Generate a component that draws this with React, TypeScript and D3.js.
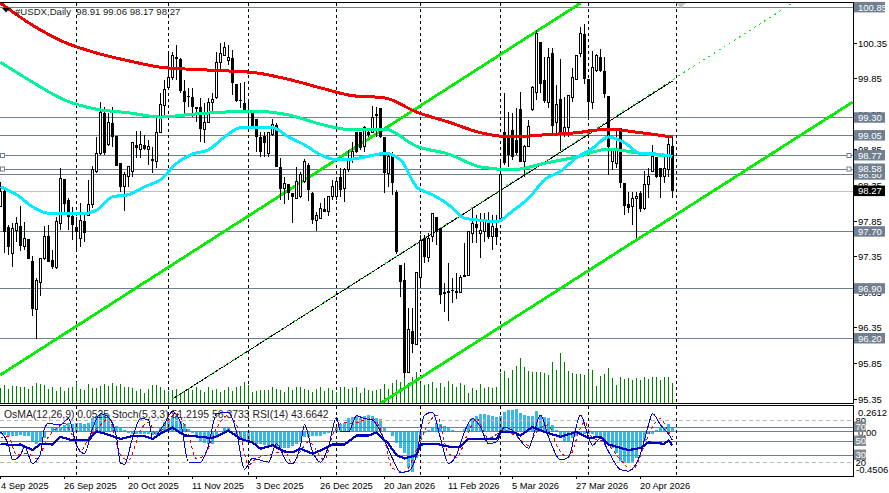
import React from 'react'
import * as d3 from 'd3'

// #USDX daily
const opens = [98.05,98.27,97.77,97.40,97.72,97.78,97.49,97.60,97.29,96.61,96.98,97.32,97.64,97.30,97.19,97.82,98.44,98.15,97.92,97.77,97.60,97.85,97.93,98.08,98.54,98.80,99.37,98.93,99.23,99.04,98.66,98.33,98.47,98.55,98.92,98.85,98.92,98.85,98.72,98.69,99.10,99.47,99.73,99.86,100.15,100.12,99.68,99.61,99.59,99.44,99.45,99.14,99.23,99.51,99.58,100.08,100.18,100.10,100.14,99.77,99.55,99.51,99.38,99.37,99.28,99.03,99.04,98.80,99.06,99.20,98.61,98.30,98.37,98.24,98.17,98.19,98.40,98.64,98.24,97.86,97.89,98.02,97.98,98.19,98.20,98.47,98.30,98.57,98.71,99.10,99.10,98.89,99.10,99.09,99.35,99.44,99.03,98.52,98.79,98.26,97.23,97.02,95.72,96.31,96.11,97.06,97.61,97.34,97.63,97.91,97.75,96.85,96.87,96.88,96.87,96.85,97.09,97.09,97.67,97.81,97.67,97.70,97.82,97.63,97.75,97.88,99.10,99.03,99.13,98.99,99.42,98.68,98.90,99.41,99.65,100.36,99.83,99.52,100.21,99.24,99.56,99.10,99.16,99.59,99.84,100.20,100.48,99.84,99.51,99.96,100.15,99.96,99.61,98.69,98.66,99.16,98.38,98.09,98.05,98.16,98.24,98.02,98.36,98.55,98.75,98.59,98.47,98.57,98.91]
const highs = [98.40,98.29,97.79,97.82,97.91,98.06,97.84,97.60,97.36,97.05,97.33,97.78,97.79,97.44,97.91,98.59,98.44,98.17,98.05,97.91,98.10,97.98,98.43,98.62,99.03,99.52,99.45,99.37,99.45,99.04,98.66,98.54,98.62,98.96,99.11,99.11,99.06,98.99,98.89,99.30,99.65,99.83,100.22,100.22,100.32,100.14,99.83,99.72,99.72,99.45,99.58,99.51,99.58,99.65,100.22,100.35,100.36,100.32,100.25,99.77,99.79,99.80,99.52,99.37,99.28,99.10,99.10,99.10,99.28,99.23,98.74,98.47,98.37,98.24,98.61,98.54,98.72,98.66,98.26,97.98,98.10,98.17,98.19,98.43,98.47,98.59,98.59,98.85,98.96,99.10,99.10,99.18,99.13,99.47,99.45,99.44,99.03,98.82,98.82,98.29,97.23,97.26,96.63,96.63,97.12,97.65,97.65,97.68,97.96,97.91,97.75,96.98,97.26,97.05,97.12,97.09,97.54,97.70,98.03,97.93,97.96,97.96,97.98,97.93,97.93,98.71,99.65,99.38,99.37,99.44,99.66,98.92,99.27,99.75,100.53,100.36,100.15,100.28,100.28,99.76,100.12,99.59,99.62,100.00,100.18,100.57,100.62,99.84,100.24,100.20,100.27,100.15,99.61,98.85,99.13,99.16,98.38,98.26,98.26,98.26,98.27,98.55,98.59,98.92,98.75,98.59,98.75,99.03,99.06]
const lows = [98.05,97.40,97.37,97.20,97.56,97.43,97.44,97.32,96.52,96.19,96.80,97.30,97.27,97.18,97.18,97.72,97.96,97.72,97.58,97.41,97.49,97.56,97.93,98.03,98.52,98.78,98.78,98.90,98.89,98.62,98.26,97.99,98.33,98.47,98.74,98.74,98.85,98.64,98.52,98.59,99.09,99.31,99.72,99.83,99.83,99.65,99.37,99.45,99.31,99.24,98.96,98.95,99.23,99.37,99.56,99.94,100.17,100.04,99.62,99.52,99.44,99.37,99.20,99.16,98.82,98.75,98.75,98.75,99.04,98.61,98.15,98.09,98.15,97.82,98.16,98.17,98.38,98.13,97.81,97.71,97.88,97.98,97.92,98.15,98.15,98.19,98.12,98.54,98.66,98.80,98.85,98.82,99.03,99.09,99.03,99.02,98.24,98.33,98.22,97.39,96.78,95.65,95.72,96.00,96.11,96.92,97.26,97.27,97.56,97.51,96.68,96.57,96.45,96.70,96.75,96.84,97.06,97.08,97.54,97.54,97.33,97.56,97.60,97.44,97.51,97.88,98.64,98.61,98.71,98.78,98.68,98.47,98.89,99.39,99.55,99.65,99.51,99.44,99.09,99.09,98.83,99.03,99.03,99.52,99.83,100.15,99.77,99.30,99.42,99.94,99.94,99.58,98.50,98.57,98.59,98.31,97.93,97.96,97.79,97.61,97.98,98.00,98.17,98.54,98.45,98.17,98.38,98.47,98.17]
const closes = [98.26,97.70,97.49,97.74,97.82,97.50,97.60,97.32,96.61,97.01,97.33,97.63,97.27,97.20,97.84,98.44,98.09,97.91,97.79,97.70,97.86,97.68,98.08,98.57,98.80,99.37,98.80,99.24,99.03,98.62,98.33,98.51,98.61,98.95,98.87,98.92,98.86,98.90,98.69,99.09,99.48,99.69,99.86,100.18,100.12,99.68,99.52,99.59,99.45,99.45,99.14,99.24,99.51,99.56,100.08,100.20,100.29,100.15,99.79,99.54,99.54,99.41,99.37,99.17,99.03,98.82,98.95,99.09,99.20,98.61,98.30,98.37,98.24,98.19,98.41,98.50,98.69,98.29,97.86,97.93,98.02,97.98,98.19,98.34,98.40,98.29,98.57,98.71,98.82,98.82,98.87,99.17,99.06,99.31,99.32,99.03,98.52,98.75,98.38,97.41,96.99,95.72,96.32,96.12,97.12,97.57,97.34,97.61,97.95,97.70,96.81,96.82,96.84,96.87,96.84,97.06,97.06,97.70,97.81,97.75,97.71,97.84,97.63,97.77,97.63,98.50,98.66,98.78,98.75,98.80,98.68,98.90,99.18,99.72,100.49,99.77,99.54,100.15,99.18,99.48,99.09,99.17,99.61,99.86,100.17,100.49,99.84,99.52,100.00,100.17,99.96,99.63,98.89,98.85,98.85,98.38,98.06,98.03,98.17,98.20,98.02,98.36,98.47,98.75,98.47,98.47,98.59,98.92,98.27]
const volumes = [15,18,14,17,17,16,16,14,17,20,19,18,14,16,12,16,12,15,16,21,14,13,19,15,15,17,19,17,20,17,19,16,16,15,12,14,10,14,18,18,16,13,12,13,14,10,12,15,13,16,13,11,16,13,14,11,13,16,12,16,17,21,18,11,12,13,13,13,16,14,13,11,16,13,16,16,14,13,11,14,16,12,15,13,11,16,16,14,15,16,10,15,13,12,13,14,19,14,20,23,21,25,20,26,31,20,18,19,21,15,20,16,22,19,16,20,18,10,15,13,19,15,16,15,16,30,32,25,33,37,45,36,32,31,31,31,30,28,41,33,50,41,32,30,29,29,28,33,33,17,27,29,35,25,18,26,24,25,23,25,23,26,24,26,26,23,26,26,20]

// moving averages, one reading every few bars
const maSlowPrices = [100.91,100.60,100.36,100.21,100.10,100.01,99.98,99.96,99.93,99.84,99.72,99.61,99.58,99.38,99.24,99.09,99.03,99.06,99.09,99.14,99.09,99.03]
const maMidPrices = [100.08,99.80,99.55,99.42,99.37,99.31,99.35,99.38,99.39,99.34,99.21,99.13,99.14,98.90,98.79,98.61,98.57,98.66,98.75,98.86,98.80,98.76]
const maFastPrices = [98.33,98.22,98.05,97.96,97.96,97.95,98.00,98.19,98.22,98.33,98.43,98.66,98.79,98.85,99.03,99.16,99.16,99.16,99.03,98.92,98.78,98.71,98.72,98.76,98.80,98.71,98.33,98.22,98.08,97.89,97.86,97.84,97.99,98.17,98.43,98.55,98.74,98.87,99.03,98.95,98.80,98.79,98.76]

// channel lines: bar index, price
const upperChannel: [number, number][] = [[0, 95.69], [145, 100.91]]
const middleChannel: [number, number][] = [[43, 95.35], [198, 100.91]]
const lowerChannel: [number, number][] = [[95, 95.29], [213, 99.52]]

const levels = [100.85, 99.30, 99.05, 98.77, 98.50, 98.58, 97.70, 96.90, 96.20]
const handleLevels = [98.77, 98.58]
const lastPrice = 98.27
const priceTicks = [100.35, 99.85, 99.35, 98.85, 98.35, 97.85, 97.35, 96.85, 96.35, 95.85, 95.35]
const separatorBars = [19, 42, 62, 84, 105, 125, 147, 169]
const dateLabels = ['4 Sep 2025', '26 Sep 2025', '20 Oct 2025', '11 Nov 2025', '3 Dec 2025', '26 Dec 2025', '20 Jan 2026', '11 Feb 2026', '5 Mar 2026', '27 Mar 2026', '20 Apr 2026']
const dateBars = [0, 16, 32, 48, 64, 80, 96, 112, 128, 144, 160]

const osma = [-.020,-.034,-.044,-.044,-.044,-.034,-.044,-.044,-.095,-.129,-.102,-.061,.007,.041,.048,.041,.068,.092,.082,.092,.092,.075,.092,.143,.160,.170,.177,.170,.075,.058,.041,.014,-.010,-.020,-.020,-.027,-.027,-.027,-.034,-.034,.041,.102,.126,.160,.160,.109,.075,.024,-.010,-.044,-.095,-.112,-.122,-.129,-.061,.003,.041,.041,.007,-.044,-.061,-.078,-.088,-.112,-.122,-.129,-.136,-.146,-.153,-.156,-.163,-.163,-.163,-.150,-.130,-.090,-.054,-.054,-.044,-.044,-.044,-.020,-.010,.007,.041,.075,.092,.136,.150,.160,.143,.156,.167,.156,.143,.126,.041,.007,-.044,-.112,-.163,-.214,-.367,-.408,-.265,-.061,-.010,.014,.048,.092,.075,.058,.041,.014,.007,.007,.024,.075,.136,.160,.177,.184,.170,.156,.150,.160,.204,.218,.224,.228,.194,.170,.160,.160,.211,.170,.150,.143,.068,.014,-.044,-.095,-.095,-.061,-.044,-.020,-.020,-.020,-.020,-.044,-.061,-.095,-.129,-.163,-.214,-.299,-.316,-.316,-.316,-.265,-.180,-.095,-.027,-.020,.014,.041,.041,.082,.0525]

const stochBars = [0,2,3,5,6,8,10,11,12,15,17,19,21,23,25,27,29,30,31,33,35,37,38,41,43,45,47,50,52,54,57,59,61,63,67,69,72,73,75,76,78,80,82,84,85,87,89,91,93,95,98,100,102,104,106,108,110,112,114,116,118,120,122,124,126,128,132,133,135,137,140,142,145,147,148,150,152,155,157,160,162,163,165,167,168]
const stochMain = [63,44,23,30,42,18,32,68,75,73,82,44,32,68,89,84,56,18,17,54,82,80,54,75,92,77,20,20,44,89,91,63,10,25,20,46,18,18,44,73,35,20,42,84,64,63,86,82,80,63,25,5,7,30,87,91,54,18,30,63,82,70,46,49,70,65,40,54,87,56,23,27,87,56,44,54,35,9,7,32,73,89,73,60,51]
const signalBars = [0,2,4,7,9,12,14,16,18,20,22,25,27,30,32,35,37,39,42,44,47,49,51,54,57,60,62,64,67,71,73,75,77,81,83,86,88,91,93,96,98,101,104,107,109,112,114,117,119,122,126,129,132,134,137,139,142,145,146,148,150,152,155,158,161,163,165,167,168]
const stochSignal = [54,56,30,32,25,56,68,75,58,35,54,73,82,30,23,65,77,58,80,89,58,25,30,68,87,58,16,25,30,35,18,35,49,23,58,77,75,80,82,51,11,6,37,75,87,32,27,63,82,54,65,56,44,63,73,44,27,68,77,54,51,44,23,9,44,70,82,63,56]
const rsiBars = [0,3,5,8,10,13,15,18,22,24,27,30,33,36,38,41,43,46,50,53,57,60,63,65,68,71,73,75,78,81,83,86,89,92,94,97,99,101,104,105,109,112,115,117,124,125,128,130,133,137,140,144,147,150,152,157,160,162,166,167,168]
const rsiValues = [46,44,45,37,46,45,56,51,51,64,59,53,57,57,53,64,69,58,56,54,65,53,48,39,44,35,34,39,32,39,45,45,58,58,62,46,30,25,30,45,46,42,42,53,53,63,63,58,70,61,56,63,54,56,45,37,40,48,46,51,43.66]
const oscLevelsSolid = [70, 50, 30]
const oscLevelsDashed = [80, 20]

const font = '"Liberation Sans", Arial, sans-serif'
const slate = '#708090'
const lime = '#00f000'

const x = d3.scaleLinear().domain([0, 168]).range([0.5, 672.5])
const y = d3.scaleLinear().domain([95.35, 100.35]).range([399, 43])
const volY = d3.scaleLinear().domain([0, 60]).range([403, 343])
const oscY = d3.scaleLinear().domain([0, 100]).range([476, 406])
const osmaY = d3.scaleLinear().domain([-0.4506, 0.2612]).range([476, 406])

const priceLine = d3.line<[number, number]>()
  .x(d => x(d[0]))
  .y(d => y(d[1]))
  .curve(d3.curveMonotoneX)
const oscLine = (curve: d3.CurveFactory) => d3.line<[number, number]>()
  .x(d => x(d[0]))
  .y(d => oscY(d[1]))
  .curve(curve)

const pairs = (bars: number[], vals: number[]) => bars.map((b, i) => [b, vals[i]] as [number, number])
const everyEight = d3.range(0, 169, 8)
const everyFour = d3.range(0, 169, 4)

function Tag({ value, fill = slate }: { value: number; fill?: string }) {
  return (
    <g>
      <rect x={854} y={y(value) - 5.5} width={31} height={10.5} fill={fill} />
      <text x={858} y={y(value) + 3.3} fill="#fff" fontSize={9.5}>{value.toFixed(2)}</text>
    </g>
  )
}

export default function App() {
  const bull = (i: number) => closes[i] >= opens[i]
  return (
    <svg width={889} height={493} style={{ position: 'fixed', left: 0, top: 0, background: '#fff' }} fontFamily={font}>
      <defs>
        <clipPath id="main"><rect x={0} y={3} width={853} height={400} /></clipPath>
        <clipPath id="sub"><rect x={0} y={406} width={853} height={70} /></clipPath>
      </defs>

      {/* price pane */}
      <g clipPath="url(#main)">
        {levels.map(l => (
          <line key={l} x1={0} x2={853} y1={y(l)} y2={y(l)} stroke={slate} shapeRendering="crispEdges" />
        ))}
        <line x1={0} x2={853} y1={y(lastPrice)} y2={y(lastPrice)} stroke="#c0c0c0" shapeRendering="crispEdges" />
        {separatorBars.map(b => (
          <line key={b} x1={x(b)} x2={x(b)} y1={3} y2={403} stroke="#000" strokeDasharray="3 3" shapeRendering="crispEdges" />
        ))}
        {volumes.map((v, i) => (
          <line key={i} x1={x(i)} x2={x(i)} y1={volY(v)} y2={403} stroke="#008000" shapeRendering="crispEdges" />
        ))}
        <path d={priceLine([middleChannel[0], [168, y.invert(81)]]) ?? ''} fill="none" stroke="#000" strokeWidth={1} shapeRendering="crispEdges" />
        <path d={priceLine(middleChannel) ?? ''} fill="none" stroke={lime} strokeWidth={1} strokeDasharray="2 4" shapeRendering="crispEdges" />
        <path d={priceLine(upperChannel) ?? ''} fill="none" stroke={lime} strokeWidth={2.8} shapeRendering="crispEdges" />
        <path d={priceLine(lowerChannel) ?? ''} fill="none" stroke={lime} strokeWidth={2.8} shapeRendering="crispEdges" />
        {opens.map((o, i) => {
          const top = y(Math.max(o, closes[i]))
          const bottom = y(Math.min(o, closes[i]))
          return (
            <g key={i} shapeRendering="crispEdges">
              <line x1={x(i)} x2={x(i)} y1={y(highs[i])} y2={y(lows[i])} stroke="#000" />
              <rect x={x(i) - 1.5} y={top} width={bull(i) ? 2 : 3} height={Math.max(bottom - top, 1)}
                fill={bull(i) ? '#fff' : '#000'} stroke={bull(i) ? '#000' : 'none'} strokeWidth={1}
                transform={bull(i) ? 'translate(0.5,0)' : undefined} />
            </g>
          )
        })}
        <path d={priceLine(pairs(everyEight, maSlowPrices)) ?? ''} fill="none" stroke="#f00000" strokeWidth={3} shapeRendering="crispEdges" />
        <path d={priceLine(pairs(everyEight, maMidPrices)) ?? ''} fill="none" stroke="#00f59a" strokeWidth={3} shapeRendering="crispEdges" />
        <path d={priceLine(pairs(everyFour, maFastPrices)) ?? ''} fill="none" stroke="#00eeff" strokeWidth={3} shapeRendering="crispEdges" />
        {handleLevels.map(l => (
          <g key={l} fill="#fff" stroke={slate}>
            <rect x={0.5} y={y(l) - 2} width={4} height={4} />
            <rect x={847} y={y(l) - 2} width={4} height={4} />
          </g>
        ))}
        <path d="M676 3 L686 3 L681 8 Z" fill="#c4c4c4" />
        <path d="M2 8 L10 8 L6 12.5 Z" fill="#000" />
        <text x={15} y={14.5} fontSize={9.6} fill="#222" xmlSpace="preserve">#USDX,Daily  98.91 99.06 98.17 98.27</text>
      </g>

      {/* oscillator pane */}
      <g clipPath="url(#sub)">
        {osma.map((v, i) => (
          <line key={i} x1={x(i)} x2={x(i)} y1={osmaY(0)} y2={osmaY(v)} stroke="#33b8f0" strokeWidth={3} shapeRendering="crispEdges" />
        ))}
        {oscLevelsSolid.map(l => (
          <line key={l} x1={0} x2={853} y1={oscY(l)} y2={oscY(l)} stroke={slate} shapeRendering="crispEdges" />
        ))}
        <line x1={0} x2={853} y1={osmaY(0)} y2={osmaY(0)} stroke={slate} shapeRendering="crispEdges" />
        {oscLevelsDashed.map(l => (
          <line key={l} x1={0} x2={853} y1={oscY(l)} y2={oscY(l)} stroke="#b8b8b8" strokeDasharray="4 3" shapeRendering="crispEdges" />
        ))}
        {separatorBars.map(b => (
          <line key={b} x1={x(b)} x2={x(b)} y1={406} y2={476} stroke="#000" strokeDasharray="3 3" shapeRendering="crispEdges" />
        ))}
        <path d={oscLine(d3.curveMonotoneX)(pairs(signalBars, stochSignal)) ?? ''} fill="none" stroke="#f00000" strokeWidth={1} strokeDasharray="3 3" shapeRendering="crispEdges" />
        <path d={oscLine(d3.curveMonotoneX)(pairs(stochBars, stochMain)) ?? ''} fill="none" stroke="#0000e0" strokeWidth={1} shapeRendering="crispEdges" />
        <path d={oscLine(d3.curveLinear)(pairs(rsiBars, rsiValues)) ?? ''} fill="none" stroke="#0000c0" strokeWidth={2.2} shapeRendering="crispEdges" />
        <text x={4} y={418} fontSize={10.4} fill="#222">OsMA(12,26,9) 0.0525 Stoch(5,3,3) 51.2195 56.3733 RSI(14) 43.6642</text>
      </g>

      {/* frames */}
      <g fill="none" stroke="#000" shapeRendering="crispEdges">
        <path d="M0 2.5 H853 V403 H0" />
        <path d="M0 405.5 H853 V476 H0" />
      </g>

      {/* price axis */}
      {priceTicks.map(t => (
        <g key={t}>
          <line x1={853} x2={857} y1={y(t)} y2={y(t)} stroke="#000" shapeRendering="crispEdges" />
          <text x={858} y={y(t) + 3.6} fontSize={9.5} fill="#000">{t.toFixed(2)}</text>
        </g>
      ))}
      {levels.map(l => <Tag key={l} value={l} />)}
      <Tag value={lastPrice} fill="#000" />

      {/* oscillator axis */}
      <text x={858} y={415.5} fontSize={9.5}>0.2612</text>
      <text x={858} y={435.5} fontSize={9.5}>0.00</text>
      <text x={856} y={473} fontSize={9.5}>-0.4506</text>
      {oscLevelsDashed.map(l => (
        <text key={l} x={855.5} y={oscY(l) + 3.5} fontSize={9.5}>{l}</text>
      ))}
      {oscLevelsSolid.map(l => (
        <g key={l}>
          <rect x={854} y={oscY(l) - 5.5} width={12} height={10.5} fill="#808890" />
          <text x={855.5} y={oscY(l) + 3.2} fontSize={9.5} fill="#fff">{l}</text>
        </g>
      ))}

      {/* date axis */}
      {dateLabels.map((d, i) => (
        <g key={d}>
          <line x1={x(dateBars[i])} x2={x(dateBars[i])} y1={476} y2={479} stroke="#000" shapeRendering="crispEdges" />
          <text x={x(dateBars[i]) + (i === 0 ? 0.5 : -0.5)} y={489} fontSize={9.3} fill="#000">{d}</text>
        </g>
      ))}
    </svg>
  )
}
